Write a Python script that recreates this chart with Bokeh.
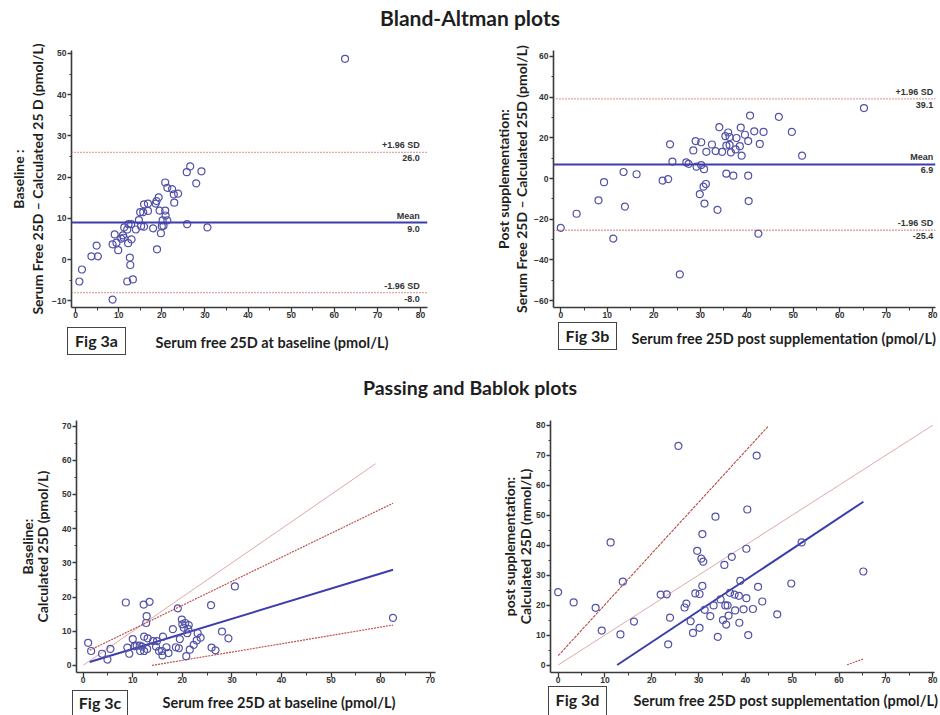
import numpy as np
from bokeh.plotting import figure
from bokeh.models import Span, Label, LinearAxis, Range1d, Div, FixedTicker
from bokeh.layouts import column, row
from bokeh.embed import file_html
from bokeh.resources import INLINE

# ---------------- data ----------------
# Fig 3a  Bland-Altman, baseline
a_x = [62.5, 0.9, 1.5, 3.7, 4.9, 5.2, 8.6, 8.6, 9.1, 9.5, 9.9, 10.6, 11.0, 11.2, 11.3, 12.0, 12.0, 12.2, 12.3,
       12.6, 12.7, 12.9, 13.0, 13.3, 14.0, 14.7, 15.0, 15.2, 15.7, 15.9, 15.9, 16.8, 16.8, 18.0, 18.6, 18.8, 18.9,
       19.3, 19.5, 19.8, 20.0, 20.2, 20.4, 20.8, 20.8, 20.9, 21.3, 21.3, 22.4, 22.8, 22.9, 23.8, 25.8, 25.9, 26.6,
       28.0, 29.2, 30.6]
a_y = [48.7, -5.3, -2.4, 0.8, 3.4, 0.8, -9.7, 3.7, 6.1, 4.1, 2.3, 5.1, 5.9, 5.3, 7.8, 7.3, -5.3, 4.0, 8.6,
       0.5, -1.3, 8.6, 4.9, -4.8, 7.3, 9.6, 11.5, 8.1, 11.5, 13.4, 8.0, 11.8, 13.6, 7.6, 13.6, 14.2, 2.5,
       15.1, 11.9, 6.4, 8.1, 9.5, 8.2, 18.7, 11.9, 10.7, 17.4, 9.5, 17.1, 15.8, 13.8, 16.0, 21.2, 8.6, 22.6,
       18.5, 21.4, 7.8]
a_mean, a_upper, a_lower = 9.0, 26.0, -8.0

# Fig 3b  Bland-Altman, post supplementation
b_x = [0.0, 3.4, 8.1, 9.3, 11.3, 13.5, 13.8, 16.3, 21.9, 23.1, 23.5, 24.0, 25.6, 27.0, 27.5, 28.5, 29.0, 29.2,
       29.9, 30.2, 30.2, 30.7, 30.8, 30.9, 31.2, 31.3, 32.5, 33.3, 33.7, 34.1, 34.7, 35.4, 35.6, 35.6, 36.0, 36.3,
       36.3, 36.6, 37.1, 37.6, 37.8, 38.5, 38.7, 38.9, 39.6, 40.3, 40.3, 40.4, 40.7, 41.6, 42.5, 42.8, 43.6, 46.9,
       49.7, 51.9, 65.2]
b_y = [-24.2, -17.3, -10.7, -1.8, -29.5, 3.2, -13.8, 2.1, -1.0, -0.3, 16.8, 8.3, -47.1, 7.9, 7.2, 13.8, 18.4, 5.8,
       -7.7, 17.8, 6.6, -4.0, 4.6, -12.3, -2.7, 13.1, 16.7, 13.5, -15.4, 25.2, 13.1, 20.8, 2.4, 16.2, 22.6, 16.5,
       20.4, 12.8, 1.4, 14.3, 19.9, 15.9, 25.0, 11.2, 21.5, 18.4, 1.4, -11.1, 30.9, 23.2, -27.1, 17.0, 22.9, 30.3,
       22.9, 11.2, 34.6]
b_mean, b_upper, b_lower = 6.9, 39.1, -25.4

# Fig 3c  Passing-Bablok, baseline
c_x = [1.0, 1.6, 3.8, 4.9, 5.5, 8.6, 8.9, 9.3, 10.0, 10.4, 10.8, 11.4, 11.5, 11.9, 12.2, 12.3, 12.3, 12.7, 12.8,
       12.9, 13.0, 13.4, 14.1, 14.7, 14.9, 15.3, 15.9, 16.0, 16.1, 16.8, 17.2, 18.1, 18.7, 19.1, 19.3, 19.5, 19.9,
       20.0, 20.3, 20.6, 20.8, 21.0, 21.2, 21.3, 21.5, 22.3, 22.9, 23.1, 23.7, 25.8, 25.9, 26.7, 28.0, 29.3, 30.6,
       62.5]
c_y = [6.6, 4.2, 3.4, 1.7, 4.8, 18.4, 5.2, 3.4, 7.7, 5.6, 5.8, 5.8, 4.2, 5.5, 17.8, 8.4, 4.2, 12.4, 14.4,
       4.8, 7.9, 18.6, 7.1, 5.5, 7.1, 4.2, 4.2, 2.9, 8.4, 5.3, 3.6, 10.6, 5.3, 16.7, 5.0, 7.7, 13.4,
       12.0, 11.0, 12.4, 2.7, 9.4, 10.6, 11.8, 4.6, 6.0, 7.3, 9.4, 8.1, 17.6, 5.2, 4.4, 9.9, 7.9, 23.1,
       13.9]
# regression / CI / identity lines: (intercept, slope, x_start, x_end)
c_fit = (0.4, 0.441, 1.3, 62.5)
c_ci_upper = (3.5, 0.703, 1.3, 62.5)
c_ci_lower = (-3.4, 0.243, 13.9, 62.5)
c_identity = (0.0, 1.0, 0.0, 59.0)

# Fig 3d  Passing-Bablok, post supplementation
d_x = [0.0, 3.3, 8.0, 9.3, 11.2, 13.3, 13.8, 16.2, 21.9, 23.2, 23.5, 23.9, 25.7, 27.0, 27.4, 28.3, 28.8, 29.3,
       29.7, 30.2, 30.2, 30.6, 30.8, 30.8, 31.0, 31.3, 32.5, 33.2, 33.6, 34.1, 34.7, 35.2, 35.5, 35.7, 35.9, 36.2,
       36.4, 36.7, 37.1, 37.7, 37.8, 38.6, 38.7, 38.9, 39.6, 40.2, 40.2, 40.4, 40.6, 41.6, 42.4, 42.7, 43.6, 46.8,
       49.8, 52.0, 65.2]
d_y = [24.3, 20.9, 19.1, 11.5, 40.9, 10.2, 27.8, 14.5, 23.5, 23.6, 6.9, 15.8, 73.1, 19.2, 20.5, 14.6, 10.7, 23.9,
       38.1, 23.7, 12.4, 35.5, 43.7, 26.4, 34.5, 18.4, 16.3, 19.9, 49.5, 9.4, 21.9, 15.0, 33.4, 19.9, 13.5, 19.9,
       16.5, 24.1, 36.1, 23.5, 18.2, 23.1, 14.1, 28.1, 18.6, 22.3, 38.8, 51.9, 10.0, 18.7, 69.9, 26.1, 21.2, 16.9,
       27.2, 40.9, 31.2]
d_fit = (-13.05, 1.036, 12.6, 65.2)
d_ci_upper = (3.1, 1.707, 0.0, 44.8)
d_ci_lower = (-34.5, 0.56, 61.7, 65.3)
d_identity = (0.0, 1.0, 0.0, 80.0)

# ticks
a_xticks = [0, 10, 20, 30, 40, 50, 60, 70, 80]
a_yticks = [-10, 0, 10, 20, 30, 40, 50]
b_xticks = [0, 10, 20, 30, 40, 50, 60, 70, 80]
b_yticks = [-60, -40, -20, 0, 20, 40, 60]
c_xticks = [0, 10, 20, 30, 40, 50, 60, 70]
c_yticks = [0, 10, 20, 30, 40, 50, 60, 70]
d_xticks = [0, 10, 20, 30, 40, 50, 60, 70, 80]
d_yticks = [0, 10, 20, 30, 40, 50, 60, 70, 80]

# text
title_top = "Bland-Altman plots"
title_bottom = "Passing and Bablok plots"
a_ylab = ("Baseline :", "Serum Free 25D \u2013 Calculated 25 D (pmol/L)")
b_ylab = ("Post supplementation:", "Serum Free 25D \u2013 Calculated 25D (pmol/L)")
c_ylab = ("Baseline:", "Calculated 25D (pmol/L)")
d_ylab = ("post supplementation:", "Calculated 25D (mmol/L)")
a_xlab = "Serum free 25D at baseline (pmol/L)"
b_xlab = "Serum free 25D post supplementation (pmol/L)"
c_xlab = "Serum free 25D at baseline (pmol/L)"
d_xlab = "Serum free 25D post supplementation (pmol/L)"
fig_tags = ["Fig 3a", "Fig 3b", "Fig 3c", "Fig 3d"]

# ---------------- style ----------------
FONT = "Lato"
TICK_FONT = "Liberation Sans"
AX = "#3a3a3a"
PT = "#5252a8"
BLUE = "#3c3cae"
RED = "#c0504d"
PINK = "#dfa9a6"
DARKRED = "#b84a42"
TXT = "#1e1e1e"


def minor_of(ticks):
    step = ticks[1] - ticks[0]
    return [t + step / 2 for t in ticks[:-1]]


def make_fig(w, h, xr, yr, borders, xticks, yticks, ylab, std):
    l, r, t, b = borders
    p = figure(width=w, height=h, x_range=Range1d(*xr), y_range=Range1d(*yr),
               output_backend="svg", toolbar_location=None, title=None,
               min_border_left=l, min_border_right=r, min_border_top=t, min_border_bottom=b)
    p.grid.visible = False
    p.outline_line_color = None
    p.xaxis.ticker = FixedTicker(ticks=xticks, minor_ticks=minor_of(xticks))
    p.yaxis.ticker = FixedTicker(ticks=yticks, minor_ticks=minor_of(yticks))
    for ax in (p.xaxis[0], p.yaxis[0]):
        ax.axis_line_color = AX
        ax.axis_line_width = 1.6
        ax.major_tick_line_color = AX
        ax.major_tick_line_width = 1.3
        ax.minor_tick_line_color = AX
        ax.minor_tick_line_width = 1
        ax.major_tick_in = 0
        ax.minor_tick_in = 0
        ax.major_label_text_font = TICK_FONT
        ax.major_label_text_font_size = "8.5px"
        ax.major_label_text_font_style = "bold"
        ax.major_label_text_color = "#333333"
    p.xaxis.major_tick_out = 5
    p.xaxis.minor_tick_out = 3
    p.xaxis.major_label_standoff = -1
    p.yaxis.major_tick_out = 4
    p.yaxis.minor_tick_out = 2
    p.yaxis.major_label_standoff = 1
    yax = p.yaxis[0]
    yax.axis_label = ylab[1]
    yax.axis_label_standoff = std[1]
    ax2 = LinearAxis(axis_label=ylab[0], axis_label_standoff=std[0])
    ax2.ticker = FixedTicker(ticks=[])
    ax2.axis_line_color = None
    ax2.major_tick_line_color = None
    ax2.minor_tick_line_color = None
    ax2.major_label_text_font_size = "0px"
    ax2.major_label_standoff = 0
    ax2.major_tick_out = 0
    ax2.minor_tick_out = 0
    for ax in (yax, ax2):
        ax.axis_label_text_font = FONT
        ax.axis_label_text_font_style = "bold"
        ax.axis_label_text_font_size = "14px"
        ax.axis_label_text_color = TXT
    p.add_layout(ax2, "left")
    return p


def ba_lines(p, mean, up, lo, xlab_pos):
    p.add_layout(Span(location=mean, dimension="width", line_color=BLUE, line_width=2))
    for v in (up, lo):
        p.add_layout(Span(location=v, dimension="width", line_color=RED, line_width=1.4,
                          line_dash="1 2"))
    entries = [("+1.96 SD", up), ("Mean", mean), ("-1.96 SD", lo)]
    for name, v in entries:
        p.add_layout(Label(x=xlab_pos, y=v, text=name, text_align="right", text_baseline="bottom",
                           y_offset=2, text_font=TICK_FONT, text_font_style="bold",
                           text_font_size="9px", text_color="#333333"))
        p.add_layout(Label(x=xlab_pos, y=v, text=f"{v:.1f}", text_align="right", text_baseline="top",
                           y_offset=-3, text_font=TICK_FONT, text_font_style="bold",
                           text_font_size="9px", text_color="#333333"))


def pb_line(p, params, **kw):
    b0, b1, x0, x1 = params
    xs = np.array([x0, x1])
    p.line(xs, b0 + b1 * xs, **kw)


def points(p, xs, ys):
    p.scatter(xs, ys, marker="circle", size=7, fill_color=None, line_color=PT, line_width=1.2)


# ---------------- panels ----------------
fa = make_fig(470, 297, (-0.93, 81.62), (-11.61, 50.71), (71, 43, 14, 20), a_xticks, a_yticks, a_ylab, (0, 3))
ba_lines(fa, a_mean, a_upper, a_lower, 79.8)
points(fa, a_x, a_y)

fb = make_fig(470, 297, (-1.57, 80.58), (-63.36, 62.88), (83, 5, 8, 26), b_xticks, b_yticks, b_ylab, (-1, 1))
ba_lines(fb, b_mean, b_upper, b_lower, 80.1)
points(fb, b_x, b_y)

fc = make_fig(470, 292, (-1.35, 71.07), (-2.09, 71.65), (76, 35, 20, 18), c_xticks, c_yticks, c_ylab, (-4, 8))
pb_line(fc, c_identity, line_color=PINK, line_width=1)
pb_line(fc, c_ci_upper, line_color=RED, line_width=1.2, line_dash="2 1")
pb_line(fc, c_ci_lower, line_color=RED, line_width=1.2, line_dash="2 1")
pb_line(fc, c_fit, line_color=BLUE, line_width=2)
points(fc, c_x, c_y)

fd = make_fig(470, 292, (-1.64, 80.39), (-2.5, 81.6), (80, 6, 15, 20), d_xticks, d_yticks, d_ylab, (-3, -1))
pb_line(fd, d_identity, line_color=PINK, line_width=1)
pb_line(fd, d_ci_upper, line_color=DARKRED, line_width=1.1, line_dash="3 1")
pb_line(fd, d_ci_lower, line_color=RED, line_width=1.1, line_dash="2 1")
pb_line(fd, d_fit, line_color=BLUE, line_width=2)
points(fd, d_x, d_y)


# ---------------- html text rows ----------------
def box(tag, left, top, w, h, lh, bottom_border=True):
    bb = "1.5px solid #444" if bottom_border else "none"
    return (f'<div style="position:absolute;left:{left}px;top:{top}px;width:{w}px;height:{h}px;'
            f'box-sizing:border-box;border:1.5px solid #444;border-bottom:{bb};overflow:hidden;'
            f'background:white;font-size:16px;line-height:{lh}px;text-align:center;">{tag}</div>')


def text(t, left, top, w, align, size=14.5, lh=20):
    return (f'<div style="position:absolute;left:{left}px;top:{top}px;width:{w}px;height:{lh}px;'
            f'font-size:{size}px;line-height:{lh}px;text-align:{align};white-space:nowrap;">{t}</div>')


def wrap(inner, h):
    return (f'<div style="position:relative;width:940px;height:{h}px;font-family:Lato;'
            f'font-weight:bold;color:{TXT};">{inner}</div>')


top_html = wrap(text(title_top, 0, 0, 940, "center", size=21, lh=36), 36)
mid_html = wrap(
    box(fig_tags[0], 67, -6, 59, 28, 25)
    + text(a_xlab, 72, 0, 400, "center")
    + box(fig_tags[1], 558, -11, 59, 28, 25)
    + text(b_xlab, 486, -4, 450, "right")
    + text(title_bottom, 0, 43, 940, "center", size=19.5, lh=24), 67)
bot_html = wrap(
    box(fig_tags[2], 72, -2, 56, 25, 24, bottom_border=False)
    + text(c_xlab, 79, 1, 400, "center")
    + box(fig_tags[3], 548, -6, 59, 29, 25, bottom_border=False)
    + text(d_xlab, 488, -1, 450, "right"), 23)

ov = {"overflow": "visible"}
d_top = Div(text=top_html, width=940, height=36, margin=0, styles=ov)
d_mid = Div(text=mid_html, width=940, height=67, margin=0, styles=ov)
d_bot = Div(text=bot_html, width=940, height=23, margin=0, styles=ov)

layout = column(d_top, row(fa, fb), d_mid, row(fc, fd), d_bot)
open("out.html", "w").write(file_html(layout, INLINE))
